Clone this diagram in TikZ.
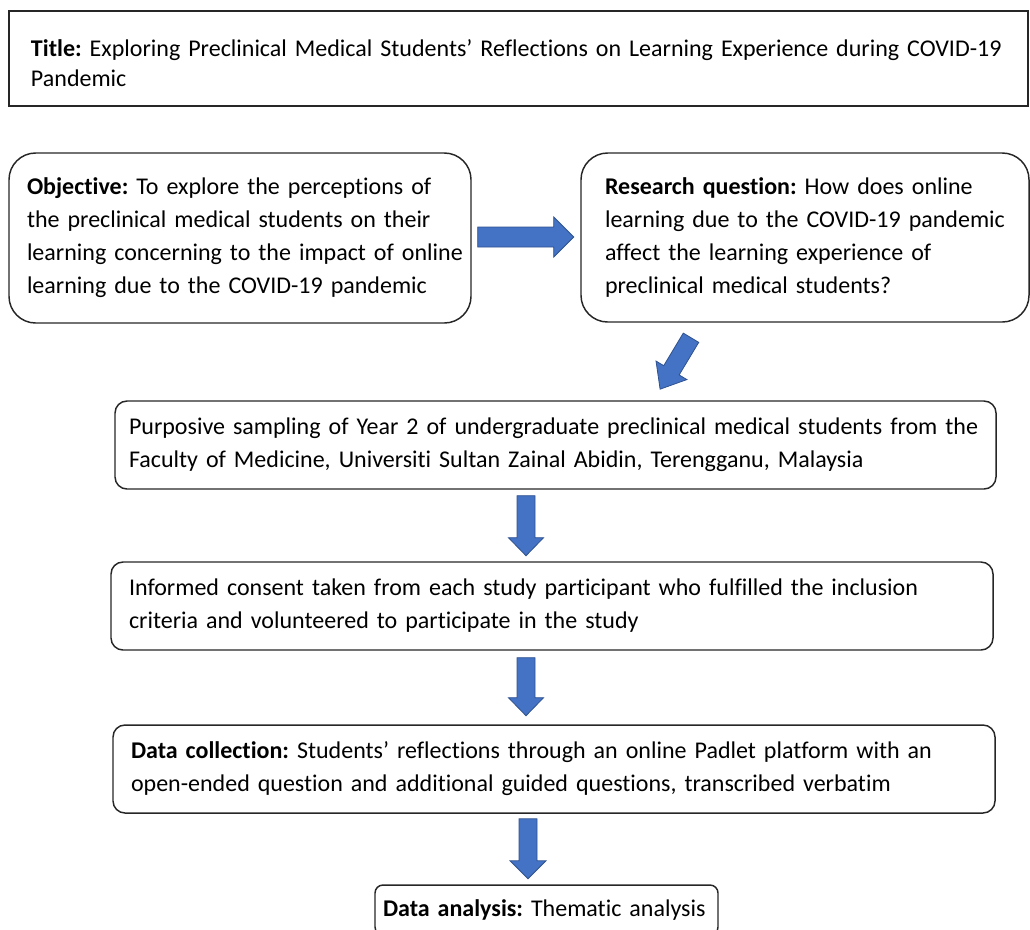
\documentclass[tikz,border=0pt]{standalone}
\usepackage{fontspec}
\setmainfont{Carlito}[Ligatures=NoCommon]
\frenchspacing
\usetikzlibrary{calc}
\definecolor{arrowblue}{HTML}{4472C4}
\definecolor{arrowedge}{HTML}{2F528F}
\definecolor{boxline}{HTML}{262626}
\newcommand{\txl}[1]{\mbox{#1}}
\tikzset{
  pics/barrow/.style n args={4}{code={
    \draw[draw=arrowedge, fill=arrowblue, line width=0.6pt, line join=miter]
      (0,-#4/2) -- (#1-#2,-#4/2) -- (#1-#2,-#3/2) -- (#1,0) -- (#1-#2,#3/2) -- (#1-#2,#4/2) -- (0,#4/2) -- cycle;
  }}
}
\begin{document}
\begin{tikzpicture}[x=0.75pt,y=-0.75pt,
  box/.style={draw=boxline, line width=1.1pt, align=left, inner ysep=0pt,
              font=\fontsize{18}{24.75}\selectfont},
  biground/.style={rounded corners=20pt},
  midround/.style={rounded corners=9pt},
  smallround/.style={rounded corners=6pt}]
\useasboundingbox (0,0) rectangle (1030,929);

\node[box, line width=1.4pt, font=\fontsize{18}{22.5}\selectfont, inner xsep=16.5pt,
      text width=731.25pt, minimum width=764.25pt, minimum height=71.25pt]
  (title) at (518.5,58.5)
  {\txl{\rule{0pt}{19pt}\textbf{Title:} Exploring Preclinical Medical Students’ Reflections on Learning Experience during COVID-19}\\\txl{Pandemic}};

\node[box, biground, inner xsep=13.5pt, text width=319.5pt, minimum width=346.5pt, minimum height=127.5pt]
  (obj) at (240,238)
  {\txl{\textbf{Objective:} To explore the perceptions of}\\\txl{the preclinical medical students on their}\\\txl{learning concerning to the impact of online}\\\txl{learning due to the COVID-19 pandemic}};

\node[box, biground, inner xsep=18pt, text width=300pt, minimum width=336pt, minimum height=126.75pt]
  (rq) at (805,237.5)
  {\txl{\textbf{Research question:} How does online}\\\txl{learning due to the COVID-19 pandemic}\\\txl{affect the learning experience of}\\\txl{preclinical medical students?}};

\node[box, midround, inner xsep=10.5pt, text width=639.75pt, minimum width=660.75pt, minimum height=66pt]
  (sampling) at (555.5,445)
  {\txl{Purposive sampling of Year 2 of undergraduate preclinical medical students from the}\\\txl{Faculty of Medicine, Universiti Sultan Zainal Abidin, Terengganu, Malaysia}};

\node[box, midround, inner xsep=13.5pt, text width=634.5pt, minimum width=661.5pt, minimum height=66pt]
  (consent) at (552,606)
  {\txl{Informed consent taken from each study participant who fulfilled the inclusion}\\\txl{criteria and volunteered to participate in the study}};

\node[box, midround, inner xsep=13.5pt, text width=634.5pt, minimum width=661.5pt, minimum height=66pt]
  (collect) at (554,769)
  {\txl{\textbf{Data collection:} Students’ reflections through an online Padlet platform with an}\\\txl{open-ended question and additional guided questions, transcribed verbatim}};

\node[box, smallround, inner xsep=6pt, text width=245.25pt, minimum width=257.25pt, minimum height=37.5pt]
  (analysis) at (546.5,910)
  {\txl{\textbf{Data analysis:} Thematic analysis}};

% block arrows
\pic at ($(obj.east)+(6,-1)$) {barrow={96}{20}{40}{20}};
\pic[rotate=-121] at ($(rq.south)+(-114,15)$) {barrow={60}{22}{36}{18}};
\pic[rotate=-90] at ($(sampling.south)+(-29.5,6)$) {barrow={60}{18}{35}{18}};
\pic[rotate=-90] at ($(consent.south)+(-26,7)$) {barrow={58}{18}{35}{18}};
\pic[rotate=-90] at ($(collect.south)+(-26,5)$) {barrow={60}{18}{36}{18}};
\end{tikzpicture}
\end{document}
